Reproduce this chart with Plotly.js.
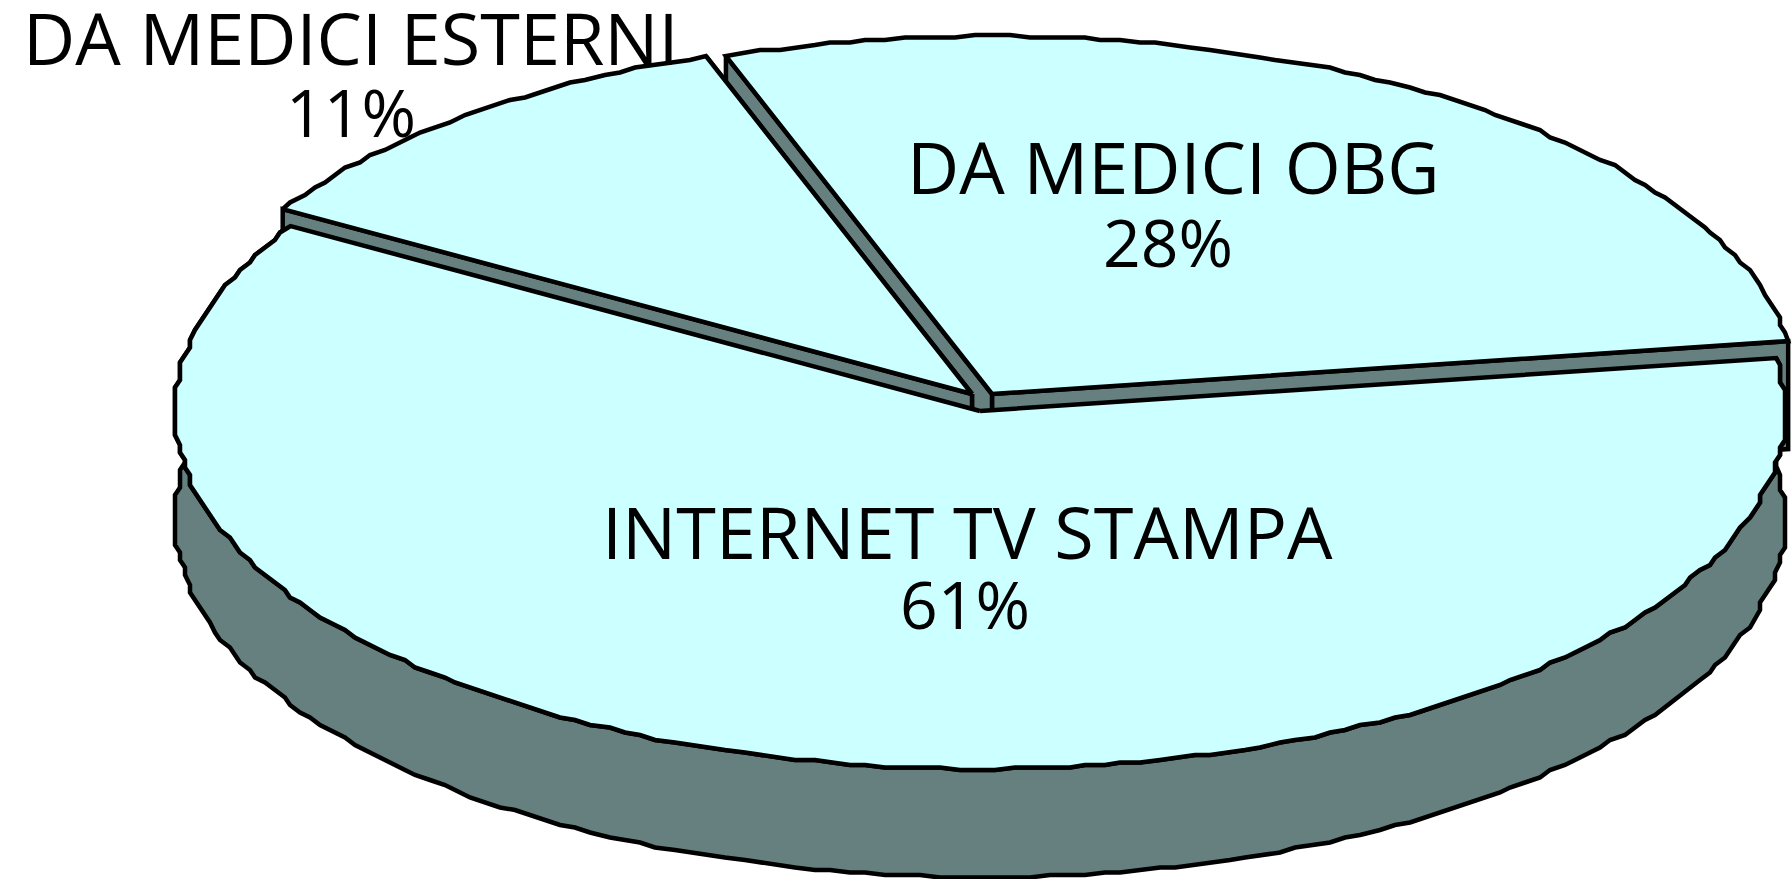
<!DOCTYPE html>
<html><head><meta charset="utf-8">
<style>html,body{margin:0;padding:0;background:#fff;overflow:hidden}#c{width:1792px;height:879px}</style>
<script src="https://cdn.plot.ly/plotly-3.0.1.min.js"></script></head>
<body><div id="c"></div>
<script>
const categories = ["DA MEDICI OBG", "DA MEDICI ESTERNI", "INTERNET TV STAMPA"];
const shares = [28, 11, 61];
const percentLabels = ["28%", "11%", "61%"];

// Geometry of the tilted pie (page pixels, the axes map 1:1 to pixels)
const centres = [[992, 394], [972, 394], [980, 411]];
const RX = 805, RY = 358, DEPTH = 108, START = 8.5, STEP = 1.3, SNAP_X = 5, SNAP_Y = 2.5;
const FACE = "#CCFFFF", WALL = "#668080", EDGE = "#000000", LW = 4.5;

function arc(c, a0, a1, dz) {
  const n = Math.max(2, Math.round((a1 - a0) / STEP)), out = [];
  for (let i = 0; i <= n; i++) {
    const t = (a0 + (a1 - a0) * i / n) * Math.PI / 180;
    const p = [c[0] + RX * Math.cos(t), c[1] - RY * Math.sin(t) + dz];
    out.push(i === 0 || i === n ? p : [Math.round(p[0] / SNAP_X) * SNAP_X, Math.round(p[1] / SNAP_Y) * SNAP_Y]);
  }
  return out;
}
function poly(pts, fill, name, hover) {
  const closed = pts.concat([pts[0]]);
  return {type: "scatter", mode: "lines", x: closed.map(p => p[0]), y: closed.map(p => p[1]),
    fill: "toself", fillcolor: fill, line: {color: EDGE, width: LW, shape: "linear"},
    name: name, showlegend: false, hoverinfo: hover ? "text" : "skip", text: hover || ""};
}
let a = START;
const spans = shares.map(v => { const s = [a, a + v * 3.6]; a = s[1]; return s; });

const walls = [], faces = [];
spans.forEach((s, i) => {
  const c = centres[i];
  const top = arc(c, s[0], s[1], 0);
  if (i < 2) {
    [top[0], top[top.length - 1]].forEach(e => {
      walls.push(poly([c, e, [e[0], e[1] + DEPTH], [c[0], c[1] + DEPTH]], WALL, categories[i] + " wall"));
    });
  } else {
    const low = arc(c, s[0], s[1], DEPTH);
    walls.push(poly(top.concat(low.slice().reverse()), WALL, categories[i] + " rim"));
  }
  faces.push(poly([c].concat(top), FACE, categories[i], categories[i] + " " + percentLabels[i]));
});

const nameAt = [[1173, 166], [351, 37], [967, 531]];
const pctAt = [[1168, 241], [351, 111], [965, 603]];
const note = (t, p, size) => ({text: t, x: p[0], y: p[1], xref: "x", yref: "y", showarrow: false,
  xanchor: "center", yanchor: "middle",
  font: {family: "'Open Sans', sans-serif", size: size, color: "#000", weight: 500}});
const annotations = categories.map((t, i) => note(t, nameAt[i], 72))
  .concat(percentLabels.map((t, i) => note(t, pctAt[i], 66)));

Plotly.newPlot("c", walls.concat(faces), {
  width: 1792, height: 879, margin: {l: 0, r: 0, t: 0, b: 0},
  paper_bgcolor: "#fff", plot_bgcolor: "#fff", showlegend: false,
  xaxis: {range: [0, 1792], visible: false, fixedrange: true},
  yaxis: {range: [879, 0], visible: false, fixedrange: true},
  annotations: annotations
}, {displayModeBar: false, staticPlot: true});
</script></body></html>
